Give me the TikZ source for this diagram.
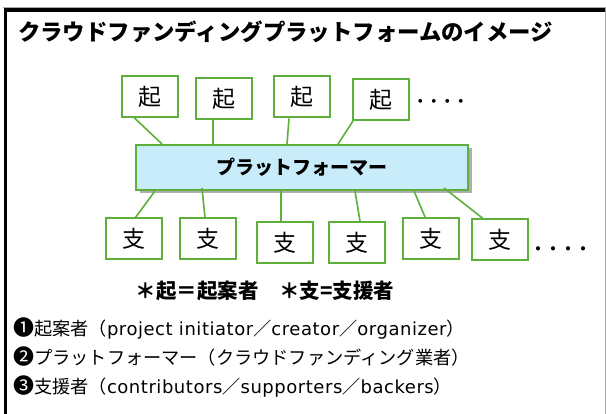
\documentclass[tikz,border=0pt]{standalone}
\usepackage{fontspec}
\newfontfamily\jp{Noto Sans CJK JP}
\newfontfamily\latn[LetterSpace=3]{DejaVu Sans}
\usetikzlibrary{shadows}
\definecolor{boxgreen}{HTML}{5EAF3C}
\definecolor{platblue}{HTML}{C9ECFA}
\definecolor{framegray}{HTML}{A8A8A8}
\tikzset{
  rolebox/.style={draw=boxgreen, line width=2pt, fill=white, inner sep=0pt,
    minimum width=56pt, minimum height=41pt, font=\jp\fontsize{23}{23}\selectfont},
  platbox/.style={draw=boxgreen, line width=2pt, fill=platblue, inner sep=0pt,
    minimum width=332pt, minimum height=45pt,
    font=\jp\bfseries\fontsize{19}{19}\selectfont,
    drop shadow={shadow xshift=3.5pt, shadow yshift=-3.5pt, opacity=0.45, fill=black!70}},
  link/.style={draw=boxgreen, line width=1.6pt},
  dots/.style={inner sep=0pt, anchor=west, font=\jp\bfseries},
  titletext/.style={anchor=west, inner sep=0pt, font=\jp\bfseries\fontsize{22.4}{22.4}\selectfont},
  keytext/.style={inner sep=0pt, font=\jp\bfseries\fontsize{20.5}{20.5}\selectfont},
  listtext/.style={anchor=west, inner sep=0pt, font=\jp\fontsize{18.2}{18.2}\selectfont},
}
\newcommand{\lt}[1]{{\latn\fontsize{18}{18}\selectfont #1}}
\newcommand{\numbadge}[1]{{\fontsize{21}{21}\selectfont #1}}
\begin{document}
\begin{tikzpicture}[x=1pt,y=-1pt]
\useasboundingbox (0,0) rectangle (606,414);
\fill[white] (0,0) rectangle (606,414);

% frame
\draw[framegray, line width=0.8pt] (3,7.2) -- (606,7.2);
\draw[framegray, line width=1pt] (605.2,7.2) -- (605.2,414);
\draw[black, line width=3.6pt] (3.8,10.2) -- (604.5,10.2);
\draw[black, line width=3.6pt] (5.6,8.4) -- (5.6,414);

% title
\node[titletext] (title) at (18,32) {クラウドファンディングプラットフォームのイメージ};

% platform
\node[platbox] (plat) at (302,167.5) {プラットフォーマー};

% proposers
\node[rolebox] (k1) at (149.5,96.5) {起};
\node[rolebox] (k2) at (224,98.5) {起};
\node[rolebox] (k3) at (301.5,97) {起};
\node[rolebox] (k4) at (381,99.5) {起};
\node[dots, font=\jp\bfseries\fontsize{13.5}{13.5}\selectfont] (kdots) at (413.5,103) {・・・・};

% supporters
\node[rolebox] (s1) at (133.5,239) {支};
\node[rolebox] (s2) at (207.5,239) {支};
\node[rolebox] (s3) at (284.5,242.5) {支};
\node[rolebox] (s4) at (357,242.5) {支};
\node[rolebox] (s5) at (431,238.5) {支};
\node[rolebox] (s6) at (500,240) {支};
\node[dots, font=\jp\bfseries\fontsize{15}{15}\selectfont] (sdots) at (530.5,251) {・・・・};

% links: proposers to platform
\draw[link] ([xshift=14pt]k1.south west) -- ([xshift=27pt]plat.north west);
\draw[link] ([xshift=-11pt]k2.south) -- ([xshift=-89pt]plat.north);
\draw[link] ([xshift=-12.5pt]k3.south) -- ([xshift=-15pt]plat.north);
\draw[link] ([xshift=1pt]k4.south west) -- ([xshift=36pt]plat.north);

% links: platform to supporters
\draw[link] ([xshift=20pt]plat.south west) -- ([xshift=2pt]s1.north);
\draw[link] ([xshift=67pt, yshift=3pt]plat.south west) -- ([xshift=-2.5pt]s2.north);
\draw[link] ([xshift=-21pt]plat.south) -- ([xshift=-3.5pt]s3.north);
\draw[link] ([xshift=53pt]plat.south) -- ([xshift=3pt]s4.north);
\draw[link] ([xshift=-55pt]plat.south east) -- ([xshift=-6pt]s5.north);
\draw[link] ([xshift=-25pt, yshift=3pt]plat.south east) -- ([xshift=-17pt]s6.north);

% key
\node[keytext] (key) at (265,290.5) {＊起＝起案者　＊支=支援者};

% role list
\node[listtext] (r1) at (13,328) {\numbadge{❶}起案者（\lt{project initiator}／\lt{creator}／\lt{organizer}）};
\node[listtext] (r2) at (13,357) {\numbadge{❷}プラットフォーマー（クラウドファンディング業者）};
\node[listtext] (r3) at (13,386.5) {\numbadge{❸}支援者（\lt{contributors}／\lt{supporters}／\lt{backers}）};
\end{tikzpicture}
\end{document}
